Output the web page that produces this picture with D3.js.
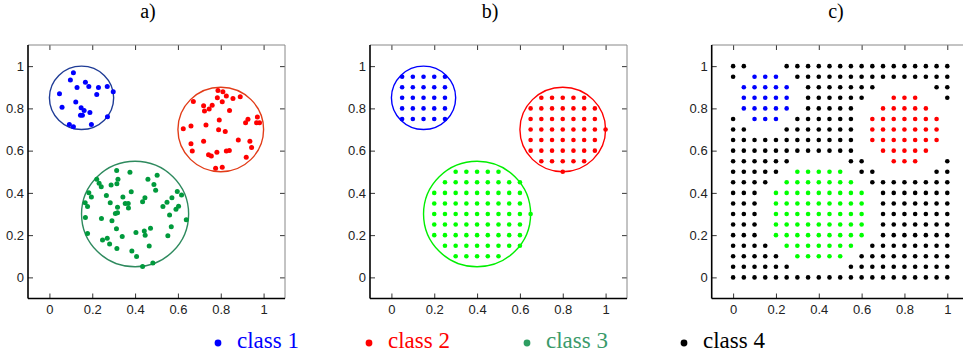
<!DOCTYPE html>
<html>
<head>
<meta charset="utf-8">
<script src="https://cdn.jsdelivr.net/npm/d3@7"></script>
<style>
  body { margin: 0; background: #fff; }
  svg { display: block; }
  .tick text { font-family: "Liberation Sans", Arial, sans-serif; font-size: 13px; fill: #222; }
</style>
</head>
<body>
<svg id="chart"></svg>
<script>
// Panel titles and axis ticks
const titles = ["a)", "b)", "c)"];
const tickValues = [0, 0.2, 0.4, 0.6, 0.8, 1];
const tickLabels = ["0", "0.2", "0.4", "0.6", "0.8", "1"];

// a) scattered samples, one list per class
const class1A = [[0.112,0.969],[0.098,0.934],[0.168,0.924],[0.184,0.904],[0.229,0.899],[0.270,0.904],
  [0.298,0.879],[0.129,0.899],[0.047,0.869],[0.221,0.866],[0.123,0.830],[0.059,0.805],[0.148,0.803],
  [0.162,0.790],[0.189,0.781],[0.145,0.767],[0.154,0.767],[0.271,0.760],[0.196,0.724],[0.093,0.724],
  [0.112,0.713]];
const class2A = [[0.787,0.885],[0.810,0.879],[0.826,0.858],[0.784,0.850],[0.857,0.847],[0.891,0.855],
  [0.807,0.831],[0.672,0.833],[0.720,0.813],[0.760,0.815],[0.746,0.797],[0.724,0.787],[0.841,0.790],
  [0.971,0.759],[0.927,0.748],[0.916,0.732],[0.967,0.732],[0.981,0.732],[0.793,0.745],[0.625,0.704],
  [0.661,0.716],[0.731,0.721],[0.790,0.699],[0.821,0.690],[0.720,0.644],[0.661,0.633],[0.667,0.598],
  [0.882,0.650],[0.936,0.644],[0.944,0.615],[0.919,0.569],[0.743,0.581],[0.756,0.574],[0.782,0.592],
  [0.826,0.598],[0.840,0.601],[0.776,0.517],[0.807,0.521]];
const class3A = [[0.314,0.506],[0.376,0.498],[0.221,0.464],[0.232,0.445],[0.242,0.429],[0.288,0.437],
  [0.320,0.464],[0.315,0.443],[0.460,0.464],[0.503,0.483],[0.488,0.440],[0.496,0.412],[0.184,0.401],
  [0.196,0.380],[0.167,0.353],[0.178,0.335],[0.266,0.388],[0.343,0.380],[0.382,0.405],[0.284,0.353],
  [0.354,0.350],[0.368,0.350],[0.369,0.328],[0.318,0.332],[0.308,0.302],[0.318,0.306],[0.435,0.358],
  [0.446,0.377],[0.530,0.335],[0.549,0.356],[0.572,0.377],[0.597,0.407],[0.617,0.390],[0.591,0.322],
  [0.603,0.337],[0.561,0.295],[0.639,0.273],[0.569,0.240],[0.553,0.197],[0.168,0.284],[0.178,0.208],
  [0.243,0.279],[0.292,0.268],[0.313,0.230],[0.340,0.194],[0.248,0.177],[0.270,0.185],[0.281,0.158],
  [0.315,0.137],[0.404,0.212],[0.443,0.219],[0.447,0.200],[0.472,0.232],[0.466,0.148],[0.385,0.125],
  [0.407,0.099],[0.435,0.051],[0.483,0.068]];

// class regions (circles) drawn in a) and b)
const circleCx = [0.15, 0.8, 0.4];
const circleCy = [0.85, 0.7, 0.3];
const circleR = [0.15, 0.2, 0.25];

// b) and c) grid samples, rows from y = 1 down to y = 0, columns x = 0..1 (step 0.05)
// '.' = no sample, digit = class
const gridStep = 0.05;
const gridB = [
  ".....................",
  ".11111...............",
  ".11111...............",
  ".11111........22222..",
  ".11111.......2222222.",
  ".11111.......2222222.",
  ".............22222222",
  ".............2222222.",
  ".............2222222.",
  "..............22222..",
  "......33333.....2....",
  ".....33333333........",
  "....333333333........",
  "....333333333........",
  "....3333333333.......",
  "....333333333........",
  "....333333333........",
  ".....33333333........",
  "......33333..........",
  ".....................",
  "....................."
];
const gridC = [
  "44...4444444444444444",
  "4.111.444444444444444",
  ".11111.4444444.....44",
  ".11111.444444..222..4",
  ".11111.44444..22222..",
  "4.111.444444.2222222.",
  "44...4444444.2222222.",
  "444444444444.2222222.",
  "444444444444..22222..",
  "444444.....44..222..4",
  "44444.33333.44.....44",
  "4444.3333333.44444444",
  "444.333333333.4444444",
  "444.333333333.4444444",
  "444.333333333.4444444",
  "444.333333333.4444444",
  "444.333333333.4444444",
  "4444.3333333.44444444",
  "44444.33333.444444444",
  "444444.....4444444444",
  "444444444444444444444"
];

const legendLabels = ["class 1", "class 2", "class 3", "class 4"];

// colours
const dotColorsA = ["#0000ff", "#ff0000", "#009a3c"];
const circleColorsA = ["#1f3c96", "#e23c18", "#2e8a5e"];
const gridColors = { "1": "#0000ff", "2": "#ff0000", "3": "#00ff00", "4": "#000000" };
const circleColorsB = ["#0000ff", "#ff0000", "#00ee00"];
const legendDotColors = ["#0000ff", "#ff0000", "#2e9e62", "#000000"];
const legendTextColors = ["#0000ff", "#ff0000", "#3a9a6a", "#000000"];

const width = 963, height = 356;
const svg = d3.select("#chart").attr("width", width).attr("height", height);

const panelLeft = [28, 370, 711.7];
const titleX = [148, 490, 836];
const panelW = 257, plotTop = 45, plotBottom = 298.5;

function gridPoints(rows) {
  const pts = [];
  rows.forEach((row, r) => {
    row.split("").forEach((ch, c) => {
      if (ch !== ".") pts.push({ x: c * gridStep, y: 1 - r * gridStep, cls: ch });
    });
  });
  return pts;
}

panelLeft.forEach((x0, i) => {
  const x = d3.scaleLinear().domain([-0.1, 1.1]).range([x0, x0 + panelW]);
  const y = d3.scaleLinear().domain([-0.1, 1.1]).range([plotBottom, plotTop]);
  const g = svg.append("g");

  // axes with inward ticks on all four sides
  const fmt = (d, k) => tickLabels[k];
  g.append("g").attr("transform", `translate(0,${plotBottom})`)
    .call(d3.axisBottom(x).tickValues(tickValues).tickFormat(fmt).tickSizeInner(-5).tickSizeOuter(0).tickPadding(6));
  g.append("g").attr("transform", `translate(${x0},0)`)
    .call(d3.axisLeft(y).tickValues(tickValues).tickFormat(fmt).tickSizeInner(-5).tickSizeOuter(0).tickPadding(4));
  g.append("g").attr("transform", `translate(0,${plotTop})`)
    .call(d3.axisTop(x).tickValues(tickValues).tickFormat("").tickSizeInner(-5).tickSizeOuter(0));
  g.append("g").attr("transform", `translate(${x0 + panelW},0)`)
    .call(d3.axisRight(y).tickValues(tickValues).tickFormat("").tickSizeInner(-5).tickSizeOuter(0));
  g.selectAll(".domain").remove();
  g.selectAll(".tick line").attr("stroke", "#000").attr("stroke-width", 0.8);

  // box
  g.append("line").attr("x1", x0).attr("x2", x0 + panelW).attr("y1", plotTop).attr("y2", plotTop)
    .attr("stroke", "#888").attr("stroke-width", 1);
  g.append("line").attr("x1", x0 + panelW).attr("x2", x0 + panelW).attr("y1", plotTop).attr("y2", plotBottom)
    .attr("stroke", "#888").attr("stroke-width", 1);
  g.append("line").attr("x1", x0).attr("x2", x0).attr("y1", plotTop).attr("y2", plotBottom)
    .attr("stroke", "#000").attr("stroke-width", 1.6);
  g.append("line").attr("x1", x0).attr("x2", x0 + panelW).attr("y1", plotBottom).attr("y2", plotBottom)
    .attr("stroke", "#000").attr("stroke-width", 1.6);

  // title
  svg.append("text").attr("x", titleX[i]).attr("y", 18).attr("text-anchor", "middle")
    .style("font-family", "'Liberation Serif', 'Times New Roman', serif").style("font-size", "20px")
    .text(titles[i]);

  // class circles
  if (i < 2) {
    const colors = i === 0 ? circleColorsA : circleColorsB;
    circleCx.forEach((cx, k) => {
      g.append("ellipse")
        .attr("cx", x(cx)).attr("cy", y(circleCy[k]))
        .attr("rx", x(circleR[k]) - x(0)).attr("ry", y(0) - y(circleR[k]))
        .attr("fill", "none").attr("stroke", colors[k]).attr("stroke-width", 1.4);
    });
  }

  if (i === 0) {
    [class1A, class2A, class3A].forEach((pts, k) => {
      g.selectAll(null).data(pts).enter().append("circle")
        .attr("cx", d => x(d[0])).attr("cy", d => y(d[1])).attr("r", 2.5)
        .attr("fill", dotColorsA[k]);
    });
  } else {
    const pts = gridPoints(i === 1 ? gridB : gridC);
    g.selectAll(null).data(pts).enter().append("circle")
      .attr("cx", d => x(d.x)).attr("cy", d => y(d.y)).attr("r", 2.3)
      .attr("fill", d => gridColors[d.cls]);
  }
});

// legend
const legendDotX = [218, 369, 527, 684];
const legend = svg.append("g");
legendLabels.forEach((lab, k) => {
  legend.append("circle").attr("cx", legendDotX[k]).attr("cy", 343).attr("r", 3.4)
    .attr("fill", legendDotColors[k]);
  legend.append("text").attr("x", legendDotX[k] + 19).attr("y", 347.5)
    .style("font-family", "'Liberation Serif', 'Times New Roman', serif").style("font-size", "23px")
    .attr("fill", legendTextColors[k]).text(lab);
});
</script>
</body>
</html>
